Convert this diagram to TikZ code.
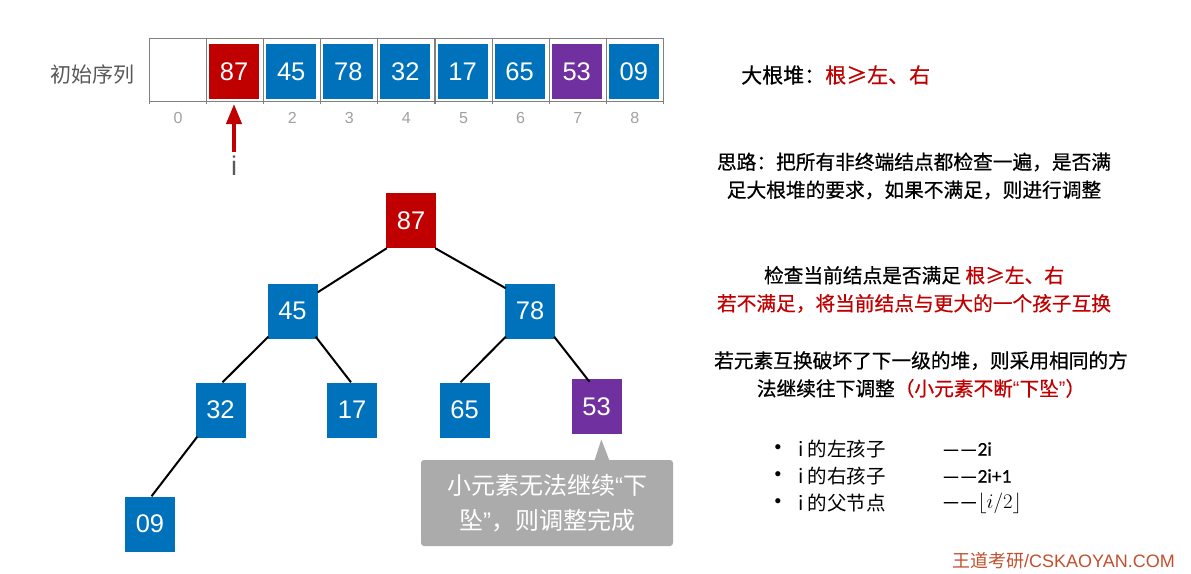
\documentclass[tikz,border=0pt]{standalone}
\usepackage{fontspec}
\setmainfont{Liberation Sans}
\newfontfamily\cjk{Noto Sans CJK SC}
\newfontfamily\cjkb[FakeBold=0.6]{Noto Sans CJK SC}
\newfontfamily\carl[FakeBold=0.5]{Carlito}
\newfontfamily\qfont{Liberation Sans}
\usetikzlibrary{arrows.meta}
\definecolor{hred}{HTML}{C00000}
\definecolor{hblue}{HTML}{0071BB}
\definecolor{hpurple}{HTML}{7030A0}
\definecolor{framegray}{HTML}{808080}
\definecolor{idxgray}{HTML}{A0A0A0}
\definecolor{labgray}{HTML}{595959}
\definecolor{callgray}{HTML}{ABABAB}
\definecolor{wmark}{HTML}{C1502E}
\tikzset{
  keybox/.style={minimum width=50pt, minimum height=55pt, inner sep=0pt, text=white,
    font=\fontsize{25.5}{25.5}\selectfont},
  redkey/.style={keybox, fill=hred},
  bluekey/.style={keybox, fill=hblue},
  purpkey/.style={keybox, fill=hpurple},
  arrframe/.style={draw=framegray, line width=1.1pt},
  idx/.style={text=idxgray, font=\fontsize{16}{16}\selectfont, inner sep=0pt},
  edge/.style={line width=2pt, black},
  rtext/.style={font=\cjkb\fontsize{19.7}{28}\selectfont, align=center, inner sep=0pt},
  bul/.style={font=\fontsize{19}{19}\selectfont, inner sep=0pt},
}
\begin{document}
\begin{tikzpicture}[x=1pt, y=-1pt]
\useasboundingbox (0,0) rectangle (1191,573);
% ---------- array ----------
\node[text=labgray, font=\cjk\fontsize{21}{21}\selectfont, inner sep=0pt] (title) at (92,75) {初始序列};
\draw[arrframe] (149.5,38.3) -- (663.5,38.3);
\draw[arrframe] (149.5,101.7) -- (663.5,101.7);
\foreach \k in {0,...,9}{
  \draw[arrframe] ({149.5+57.1*\k},38.3) -- ({149.5+57.1*\k},104);
}
\foreach \k/\v/\s in {1/87/redkey,2/45/bluekey,3/78/bluekey,4/32/bluekey,5/17/bluekey,6/65/bluekey,7/53/purpkey,8/09/bluekey}{
  \node[\s] (a\k) at ({149.5+57.1*\k+27.5},71.5) {\v};
}
\foreach \k in {0,2,3,4,5,6,7,8}{
  \node[idx] (i\k) at ({149.5+57.1*\k+28.5},118) {\k};
}
\node[text=labgray, font=\fontsize{27}{27}\selectfont, inner sep=0pt] (ptr) at (234,166) {i};
\coordinate (ptrtop) at (234,104);
\draw[hred, line width=4pt, -{Triangle[width=15pt,length=20pt]}] (234,152) -- (ptrtop);
% ---------- tree ----------
\node[redkey] (t1) at (411,220.5) {87};
\node[bluekey] (t2) at (292.5,311) {45};
\node[bluekey] (t3) at (530,311) {78};
\node[bluekey] (t4) at (220.5,410) {32};
\node[bluekey] (t5) at (352,410) {17};
\node[bluekey] (t6) at (464.5,410) {65};
\node[purpkey] (t7) at (596.5,406.5) {53};
\node[bluekey] (t8) at (150,524) {09};
\draw[edge] ([xshift=1pt]t1.south west) -- ([yshift=-9pt]t2.north east);
\draw[edge] ([xshift=-1pt]t1.south east) -- ([xshift=1pt,yshift=-5pt]t3.north west);
\draw[edge] ([xshift=1pt,yshift=2pt]t2.south west) -- ([xshift=2pt]t4.north);
\draw[edge] ([xshift=-2pt,yshift=2pt]t2.south east) -- ([xshift=-1pt]t5.north);
\draw[edge] ([xshift=1pt,yshift=2pt]t3.south west) -- ([xshift=-4pt]t6.north);
\draw[edge] ([xshift=-1pt,yshift=2pt]t3.south east) -- ([xshift=-7pt,yshift=-3pt]t7.north);
\draw[edge] ([xshift=2pt,yshift=1pt]t4.south west) -- ([xshift=1.5pt]t8.north);
% ---------- callout ----------
\node[fill=callgray, rounded corners=3pt, minimum width=252pt, minimum height=86pt, inner sep=0pt,
  text=white, align=center, font=\cjk\fontsize{24}{35}\selectfont] (call) at (547,503)
  {小元素无法继续{\qfont “}下\\坠{\qfont ”}，则调整完成};
\fill[callgray] (594.5,460.5) -- (601.3,439.5) -- (609.4,460.5) -- cycle;
% ---------- right column ----------
\node[rtext, anchor=west, font=\cjkb\fontsize{21}{21}\selectfont] (big) at (741,75) {大根堆：\textcolor{hred}{根≥左、右}};
\node[rtext] (idea) at (914,176) {思路：把所有非终端结点都检查一遍，是否满\\足大根堆的要求，如果不满足，则进行调整};
\node[rtext] (check) at (914,289.5) {检查当前结点是否满足 \textcolor{hred}{根≥左、右}\\\textcolor{hred}{若不满足，将当前结点与更大的一个孩子互换}};
\node[rtext] (swap) at (921,374.5) {若元素互换破坏了下一级的堆，则采用相同的方\\法继续往下调整\textcolor{hred}{（小元素不断{\qfont “}下坠{\qfont ”}）}};
% bullets
\foreach \r/\y/\t in {1/449/的左孩子,2/476/的右孩子,3/503/的父节点}{
  \node[bul] (b\r) at (778,\y) {•};
  \node[bul, anchor=west, font=\cjk\fontsize{19.5}{19.5}\selectfont] (l\r) at (798,\y) {i \t};
}
\node[bul, anchor=west, font=\carl\fontsize{19.5}{19.5}\selectfont] (f1) at (942,449) {——2i};
\node[bul, anchor=west, font=\carl\fontsize{19.5}{19.5}\selectfont] (f2) at (942,476) {——2i+1};
\node[bul, anchor=west, font=\carl\fontsize{19.5}{19.5}\selectfont] (f3) at (942,503) {——$\lfloor i/2\rfloor$};
% watermark
\node[anchor=east, text=wmark, font=\fontsize{18}{18}\selectfont, inner sep=0pt] (wm) at (1175,561)
  {{\cjk 王道考研}/CSKAOYAN.COM};
\end{tikzpicture}
\end{document}
